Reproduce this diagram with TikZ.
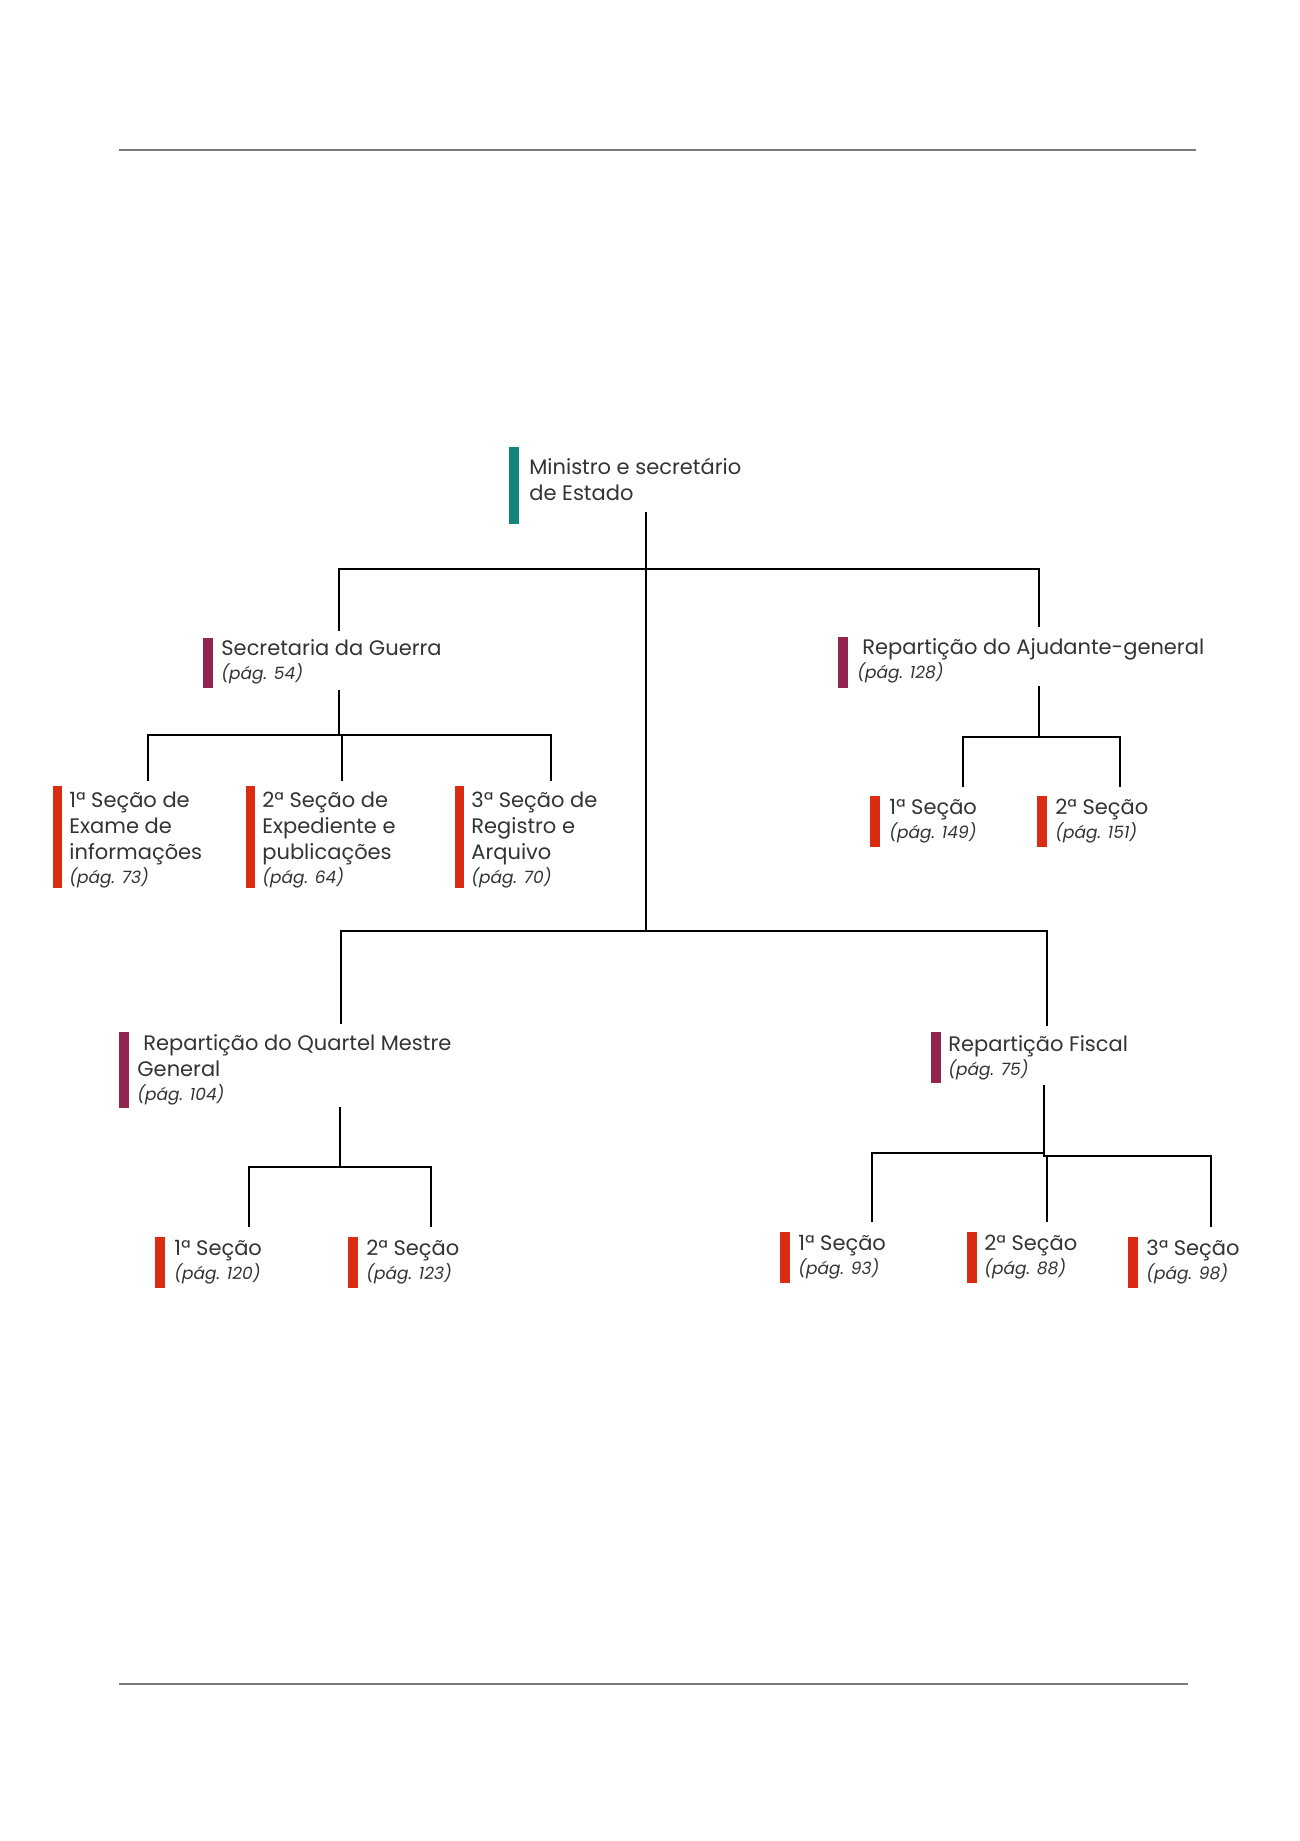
\documentclass[tikz,border=0pt]{standalone}
\usepackage{fontspec}
\setmainfont{Poppins}
\definecolor{tealc}{HTML}{12857C}
\definecolor{maroonc}{HTML}{922650}
\definecolor{redc}{HTML}{DA2C10}
\definecolor{txtc}{HTML}{333333}
\definecolor{rulec}{HTML}{7A7A7A}
\newcommand{\tlines}[1]{\begin{tabular}[t]{@{}l@{}}#1\end{tabular}}
\newcommand{\pg}[1]{\\[-1pt]{\fontsize{8.5}{13}\selectfont\itshape (pág. #1)}}
\tikzset{
  txt/.style={anchor=base west, inner sep=0pt, text=txtc, font=\fontsize{10.5}{13}\selectfont},
  conn/.style={draw=black, line width=0.7pt},
  rulel/.style={draw=rulec, line width=0.7pt},
}
\begin{document}
\begin{tikzpicture}[x=0.5pt,y=-0.5pt]
\useasboundingbox (0,0) rectangle (1300,1841);
% page rules
\coordinate (r1a) at (119,150); \coordinate (r1b) at (1196,150);
\coordinate (r2a) at (119,1684); \coordinate (r2b) at (1188,1684);
\draw[rulel] (r1a) -- (r1b);
\draw[rulel] (r2a) -- (r2b);

% bars
\fill[tealc]   (509,447) rectangle (519,524);
\fill[maroonc] (203,638) rectangle (213,688);
\fill[maroonc] (838,637) rectangle (848,688);
\fill[maroonc] (119,1032) rectangle (129,1108);
\fill[maroonc] (931,1032) rectangle (941,1083);
\fill[redc] (53,786) rectangle (62,888);
\fill[redc] (246,786) rectangle (255,888);
\fill[redc] (455,786) rectangle (464,888);
\fill[redc] (870,796) rectangle (880,847);
\fill[redc] (1037,796) rectangle (1047,847);
\fill[redc] (155,1237) rectangle (165,1288);
\fill[redc] (348,1237) rectangle (358,1288);
\fill[redc] (780,1232) rectangle (790,1283);
\fill[redc] (967,1232) rectangle (977,1283);
\fill[redc] (1128,1237) rectangle (1138,1288);

% texts
\node[txt] (min) at (529,474) {\tlines{Ministro e secretário\\de Estado}};
\node[txt] (sg) at (221,655) {\tlines{Secretaria da Guerra\pg{54}}};
\node[txt] (sg1) at (69,807) {\tlines{1ª Seção de\\Exame de\\informações\pg{73}}};
\node[txt] (sg2) at (262,807) {\tlines{2ª Seção de\\Expediente e\\publicações\pg{64}}};
\node[txt] (sg3) at (471,807) {\tlines{3ª Seção de\\Registro e\\Arquivo\pg{70}}};
\node[txt] (aj) at (857,654) {\tlines{\hspace{2.5pt}Repartição do Ajudante-general\pg{128}}};
\node[txt] (aj1) at (889,814) {\tlines{1ª Seção\pg{149}}};
\node[txt] (aj2) at (1055,814) {\tlines{2ª Seção\pg{151}}};
\node[txt] (qm) at (137,1050) {\tlines{\hspace{3pt}Repartição do Quartel Mestre\\General\pg{104}}};
\node[txt] (qm1) at (174,1255) {\tlines{1ª Seção\pg{120}}};
\node[txt] (qm2) at (366,1255) {\tlines{2ª Seção\pg{123}}};
\node[txt] (fi) at (948,1051) {\tlines{Repartição Fiscal\pg{75}}};
\node[txt] (fi1) at (798,1250) {\tlines{1ª Seção\pg{93}}};
\node[txt] (fi2) at (984,1250) {\tlines{2ª Seção\pg{88}}};
\node[txt] (fi3) at (1146,1255) {\tlines{3ª Seção\pg{98}}};

% connector points
\coordinate (m-out) at (646,512);
\coordinate (m-j1) at (646,569);
\coordinate (m-j2) at (646,931);
\coordinate (sg-in) at (339,631);
\coordinate (aj-in) at (1039,627);
\coordinate (sg-out) at (339,690);
\coordinate (sg-j) at (339,735);
\coordinate (sg1-in) at (148,781);
\coordinate (sg2-in) at (342,781);
\coordinate (sg3-in) at (551,781);
\coordinate (aj-out) at (1039,686);
\coordinate (aj-j) at (1039,737);
\coordinate (aj1-in) at (963,787);
\coordinate (aj2-in) at (1120,787);
\coordinate (qm-in) at (341,1024);
\coordinate (fi-in) at (1047,1026);
\coordinate (qm-out) at (340,1107);
\coordinate (qm-j) at (340,1167);
\coordinate (qm1-in) at (249,1227);
\coordinate (qm2-in) at (431,1227);
\coordinate (fi-out) at (1044,1085);
\coordinate (fi-j) at (1044,1153);
\coordinate (fi-j2) at (1047,1156);
\coordinate (fi1-in) at (872,1222);
\coordinate (fi2-in) at (1047,1222);
\coordinate (fi3-in) at (1211,1227);

% connectors
\draw[conn] (m-out) -- (m-j2);
\draw[conn] (sg-in) |- (m-j1) -| (aj-in);
\draw[conn] (qm-in) |- (m-j2) -| (fi-in);
\draw[conn] (sg-out) -- (sg-j);
\draw[conn] (sg1-in) |- (sg-j) -| (sg3-in);
\draw[conn] (sg2-in) -- (sg2-in |- sg-j);
\draw[conn] (aj-out) -- (aj-j);
\draw[conn] (aj1-in) |- (aj-j) -| (aj2-in);
\draw[conn] (qm-out) -- (qm-j);
\draw[conn] (qm1-in) |- (qm-j) -| (qm2-in);
\draw[conn] (fi-out) -- (fi-j);
\draw[conn] (fi1-in) |- (fi-j) -- (fi-j |- fi-j2) -- (fi-j2);
\draw[conn] (fi-j2) -| (fi3-in);
\draw[conn] (fi-j2) -- (fi2-in);
\end{tikzpicture}
\end{document}
